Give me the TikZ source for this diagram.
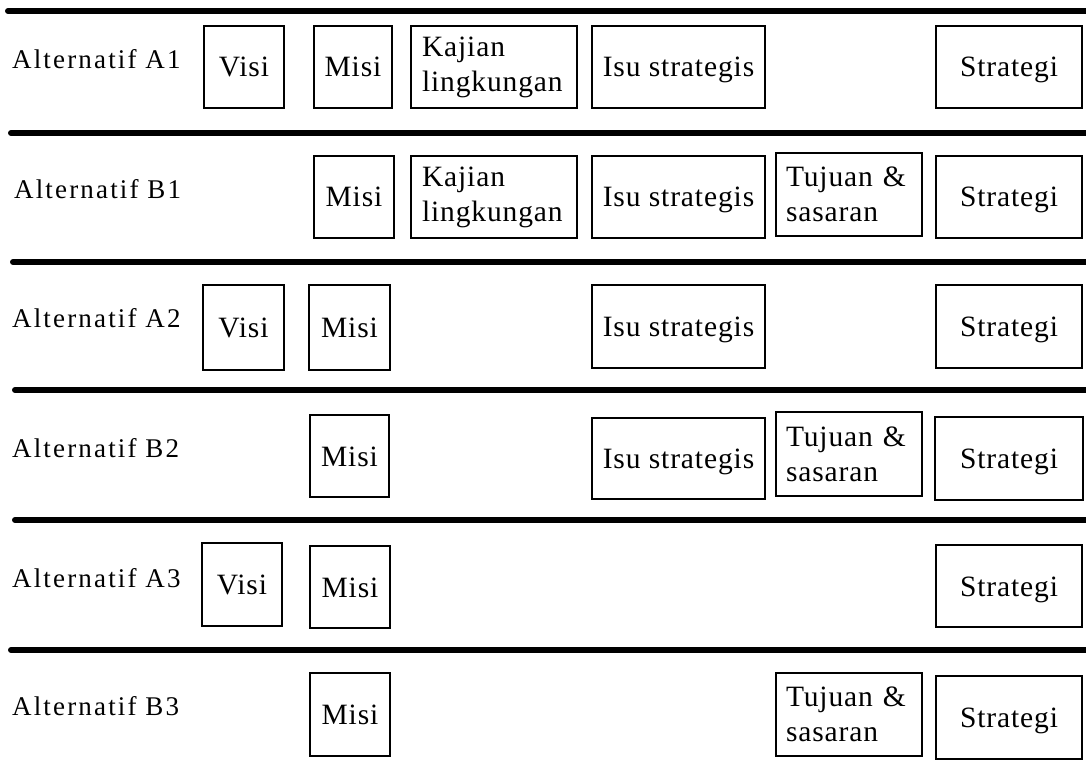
\documentclass[tikz,border=0pt]{standalone}
\usepackage{fontspec}
\setmainfont{Liberation Serif}
\newfontfamily\boxfont[LetterSpace=3]{Liberation Serif}
\newfontfamily\rowfont[LetterSpace=8]{Liberation Serif}

% \rowbox[style]{name}{x1}{y1}{x2}{y2}{text}: a framed box given by its corners
\newcommand{\rowbox}[7][one]{%
  \node[box,#1,minimum width={(#5)-(#3)},minimum height={(#6)-(#4)}] (#2)
    at ({((#3)+(#5))/2},{((#4)+(#6))/2}) {#7};}

\begin{document}
\begin{tikzpicture}[x=1pt,y=-1pt,
  sep/.style={line width=6pt,line cap=round},
  box/.style={draw,line width=1.6pt,inner sep=0pt,
    font=\boxfont\fontsize{29.5}{35}\selectfont},
  one/.style={text height=20pt,text depth=0pt},
  two/.style={align=left,text width=#1},
  rowlabel/.style={anchor=west,inner sep=0pt,
    font=\rowfont\fontsize{27}{30}\selectfont}]

\useasboundingbox (0,0) rectangle (1086,775);

% horizontal separators
\foreach \n/\xs/\yy in {1/8/11,2/11/133,3/13/262,4/15/390,5/15/520,6/11/650}{
  \coordinate (s\n a) at (\xs,\yy);
  \coordinate (s\n b) at (1092,\yy);
  \draw[sep] (s\n a) -- (s\n b);
}

% row labels
\node[rowlabel] (labA1) at (12,59)  {Alternatif A1};
\node[rowlabel] (labB1) at (14,189) {Alternatif B1};
\node[rowlabel] (labA2) at (12,318) {Alternatif A2};
\node[rowlabel] (labB2) at (12,448) {Alternatif B2};
\node[rowlabel] (labA3) at (12,578) {Alternatif A3};
\node[rowlabel] (labB3) at (12,706) {Alternatif B3};

% Alternatif A1
\rowbox{a1visi}{204}{26}{284}{108}{Visi}
\rowbox{a1misi}{314}{26}{392}{108}{Misi}
\rowbox[two=144pt]{a1kaj}{411}{26}{577}{108}{Kajian\\lingkungan}
\rowbox{a1isu}{592}{26}{765}{108}{Isu strategis}
\rowbox{a1str}{936}{26}{1082}{108}{Strategi}

% Alternatif B1
\rowbox{b1misi}{314}{156}{394}{238}{Misi}
\rowbox[two=144pt]{b1kaj}{411}{156}{577}{238}{Kajian\\lingkungan}
\rowbox{b1isu}{592}{156}{765}{238}{Isu strategis}
\rowbox[two=126pt]{b1tuj}{776}{153}{922}{236}{Tujuan \&\\sasaran}
\rowbox{b1str}{936}{156}{1082}{238}{Strategi}

% Alternatif A2
\rowbox{a2visi}{203}{285}{284}{370}{Visi}
\rowbox{a2misi}{309}{285}{390}{370}{Misi}
\rowbox{a2isu}{592}{285}{765}{368}{Isu strategis}
\rowbox{a2str}{936}{285}{1082}{368}{Strategi}

% Alternatif B2
\rowbox{b2misi}{310}{415}{389}{497}{Misi}
\rowbox{b2isu}{592}{418}{765}{499}{Isu strategis}
\rowbox[two=126pt]{b2tuj}{776}{412}{922}{496}{Tujuan \&\\sasaran}
\rowbox{b2str}{935}{417}{1083}{500}{Strategi}

% Alternatif A3
\rowbox{a3visi}{202}{543}{282}{626}{Visi}
\rowbox{a3misi}{310}{546}{390}{628}{Misi}
\rowbox{a3str}{936}{545}{1082}{627}{Strategi}

% Alternatif B3
\rowbox{b3misi}{310}{673}{390}{756}{Misi}
\rowbox[two=126pt]{b3tuj}{776}{673}{922}{756}{Tujuan \&\\sasaran}
\rowbox{b3str}{936}{676}{1082}{759}{Strategi}

\end{tikzpicture}
\end{document}
